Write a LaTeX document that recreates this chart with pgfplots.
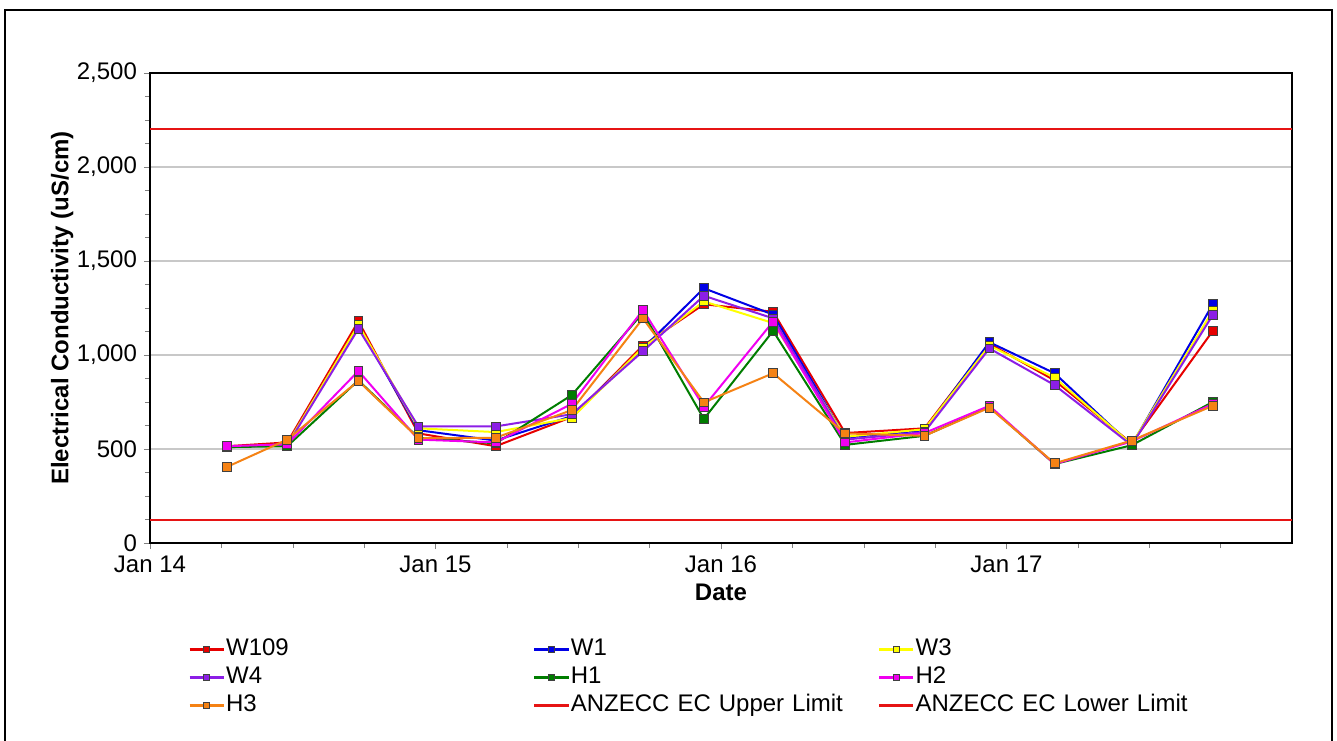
\documentclass[border=0pt]{standalone}
\usepackage{fontspec}
\setmainfont{Liberation Sans}
\usepackage{pgfplots}
\usepackage{pgfplotstable}
\pgfplotsset{compat=1.18}

\definecolor{cW109}{RGB}{230,0,0}
\definecolor{cW1}{RGB}{0,0,230}
\definecolor{cW3}{RGB}{255,255,0}
\definecolor{cW4}{RGB}{140,30,230}
\definecolor{cH1}{RGB}{0,125,0}
\definecolor{cH2}{RGB}{240,0,240}
\definecolor{cH3}{RGB}{245,130,20}
\definecolor{climit}{RGB}{230,20,20}
\definecolor{gridgray}{RGB}{200,200,200}

% months since Jan 2014, EC in uS/cm
\pgfplotstableread{
x     W109 W1   W3   W4   H1   H2   H3
3.24  515  510  510  510  510  515  405
5.77  535  525  525  520  515  525  550
8.76  1180 1155 1160 1140 865  915  862
11.28 583  600  610  620  560  550  557
14.53 515  545  590  620  530  535  560
17.73 670  675  665  685  787  740  707
20.72 1050 1035 1040 1020 1225 1240 1195
23.28 1270 1355 1285 1315 660  725  748
26.19 1230 1215 1170 1195 1128 1178 903
29.22 585  560  565  550  522  535  583
32.55 610  600  605  590  570  585  570
35.28 1060 1068 1050 1035 725  730  720
38.02 865  903  880  840  420  420  424
41.26 530  520  525  520  520  540  545
44.67 1128 1270 1235 1213 750  740  730
}\ecdata

\pgfplotsset{
  ser/.style={line width=1pt, color=#1, mark=square*,
    mark size=2.2pt, mark options={fill=#1, draw=black!75, line width=0.4pt}},
}

\begin{document}
\begin{tikzpicture}
\begin{axis}[
  scale only axis,
  width=571pt, height=235pt,
  xmin=0, xmax=48,
  ymin=0, ymax=2500,
  xtick={0,12,24,36},
  xticklabels={Jan 14, Jan 15, Jan 16, Jan 17},
  minor xtick={3,6,9,15,18,21,27,30,33,39,42,45},
  ytick={0,500,...,2500},
  minor y tick num=3,
  xtick pos=left, ytick pos=left,
  tick align=outside,
  major tick length=3pt, minor tick length=2.5pt,
  ymajorgrids,
  major grid style={gridgray, line width=0.6pt},
  axis line style={black, line width=0.9pt},
  /pgf/number format/1000 sep={,},
  /pgf/number format/assume math mode=true,
  tick label style={font=\fontsize{12}{14}\selectfont},
  xlabel={Date},
  ylabel={Electrical Conductivity (uS/cm)},
  label style={font=\bfseries\fontsize{12}{14}\selectfont},
  xlabel style={at={(axis description cs:0.5,-0.106)}, anchor=center},
  ylabel style={at={(axis description cs:-0.077,0.5)}, anchor=center},
  legend columns=3,
  legend cell align=left,
  legend style={draw=none, fill=none, at={(axis description cs:0.028,-0.19)}, anchor=north west,
    font=\fontsize{12}{14}\selectfont,
    nodes={text width=153pt, align=left, inner sep=0.5pt, text height=9pt, text depth=2.5pt},
    row sep=1.5pt},
  legend image post style={mark size=1.5pt, line width=1.3pt},
]
\addplot[ser=cW109] table[x=x, y=W109] {\ecdata};
\addlegendentry{W109}
\addplot[ser=cW1] table[x=x, y=W1] {\ecdata};
\addlegendentry{W1}
\addplot[ser=cW3] table[x=x, y=W3] {\ecdata};
\addlegendentry{W3}
\addplot[ser=cW4] table[x=x, y=W4] {\ecdata};
\addlegendentry{W4}
\addplot[ser=cH1] table[x=x, y=H1] {\ecdata};
\addlegendentry{H1}
\addplot[ser=cH2] table[x=x, y=H2] {\ecdata};
\addlegendentry{H2}
\addplot[ser=cH3] table[x=x, y=H3] {\ecdata};
\addlegendentry{H3}
\addplot[climit, line width=1pt] coordinates {(0,2200) (48,2200)};
\addlegendentry{ANZECC EC Upper Limit}
\addplot[climit, line width=1pt] coordinates {(0,125) (48,125)};
\addlegendentry{ANZECC EC Lower Limit}
\end{axis}
\draw[line width=1pt] (-72.5pt,-101pt) rectangle (591pt,266.5pt);
\pgfresetboundingbox
\useasboundingbox (-75pt,-98.5pt) rectangle (593.5pt,271.5pt);
\end{tikzpicture}
\end{document}
